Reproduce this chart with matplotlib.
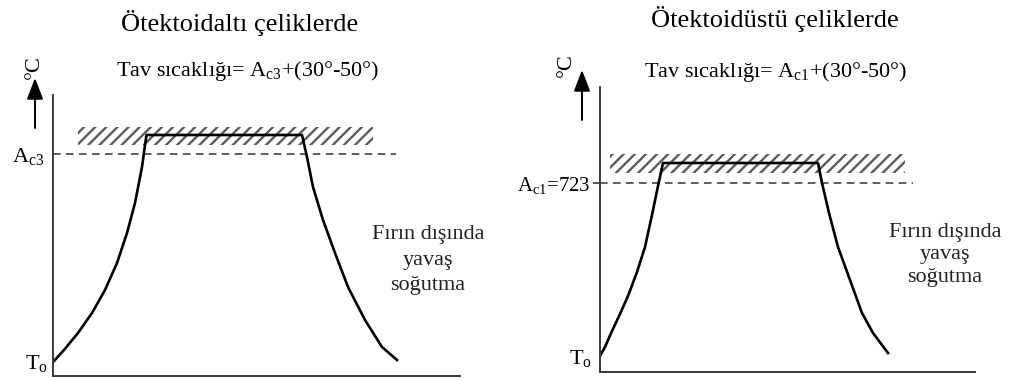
import matplotlib
matplotlib.use("Agg")
import matplotlib.pyplot as plt
from matplotlib.patches import Rectangle

plt.rcParams['font.family'] = ['Liberation Serif', 'DejaVu Serif']
plt.rcParams['mathtext.fontset'] = 'custom'
plt.rcParams['mathtext.rm'] = 'Liberation Serif'
plt.rcParams['mathtext.it'] = 'Liberation Serif:italic'
plt.rcParams['hatch.linewidth'] = 1.7

# schematic data (time, temperature) in arbitrary units
left_t = [1, 11, 25, 39, 52, 64, 74, 82, 89, 92, 93.5,
          249, 254, 260, 270, 282, 295, 312, 329, 344]
left_T = [15, 26, 43, 63, 86, 113, 143, 173, 209, 231, 241,
          241, 219, 189, 156, 123, 89, 56, 29, 16]
left_band = (25, 320, 231, 249)      # t0, t1, T0, T1
left_crit = 222
left_crit_end = 343

right_t = [0, 5, 12, 20, 28, 37, 45, 52, 58, 63,
           218, 222, 229, 238, 250, 262, 273, 288]
right_T = [16, 25, 41, 58, 76, 100, 125, 157, 186, 209,
           209, 189, 159, 125, 92, 59, 39, 19]
right_band = (10, 305, 199, 218)
right_crit = 189
right_crit_end = 313

titles = ["Ötektoidaltı çeliklerde", "Ötektoidüstü çeliklerde"]
subtitles = [r"Tav sıcaklığı= A$_{\mathrm{c3}}$+(30°-50°)",
             r"Tav sıcaklığı= A$_{\mathrm{c1}}$+(30°-50°)"]
crit_labels = [r"A$_{\mathrm{c3}}$", r"A$_{\mathrm{c1}}$=723"]
note = "Fırın dışında\nyavaş\nsoğutma"

fig = plt.figure(figsize=(10.14, 3.80), dpi=100)
W, H = 1014, 380

panels = [
    dict(pos=[53, 4, 407, 281], t=left_t, T=left_T, band=left_band,
         crit=left_crit, crit_end=left_crit_end, tick_len=0, crit_pad=6,
         crit_fs=16, to_pad=3.5, title_xy=(240, 23), sub_xy=(248, 71),
         note_xy=(375, 116), note_ls=1.45, deg_xy=(-19, 28)),
    dict(pos=[600, 8, 375, 285], t=right_t, T=right_T, band=right_band,
         crit=right_crit, crit_end=right_crit_end, tick_len=5, crit_pad=2,
         crit_fs=15, to_pad=0.8, title_xy=(775, 19), sub_xy=(776, 72),
         note_xy=(345, 117), note_ls=1.27, deg_xy=(-34, 22)),
]

for i, p in enumerate(panels):
    x0, y0, w, h = p['pos']
    ax = fig.add_axes([x0 / W, y0 / H, w / W, h / H])
    ax.set_xlim(0, w)
    ax.set_ylim(0, h)
    for s in ['top', 'right']:
        ax.spines[s].set_visible(False)
    for s in ['left', 'bottom']:
        ax.spines[s].set_linewidth(1.4)
        ax.spines[s].set_color('#3a3a3a')
    ax.set_xticks([])

    ax.set_yticks([p['T'][0], p['crit']])
    ax.set_yticklabels([r"T$_{\mathrm{o}}$", crit_labels[i]])
    ax.tick_params(axis='y', length=p['tick_len'], width=1.2, color='#3a3a3a')
    ticks = ax.yaxis.get_major_ticks()
    ticks[0].tick1line.set_visible(False)
    ticks[0].set_pad(p['to_pad'])
    ticks[0].label1.set_fontsize(16)
    ticks[1].set_pad(p['crit_pad'])
    ticks[1].label1.set_fontsize(p['crit_fs'])

    t0, t1, b0, b1 = p['band']
    ax.add_patch(Rectangle((t0, b0), t1 - t0, b1 - b0, facecolor='none',
                           edgecolor='#5c5c5c', linewidth=0, hatch='///'))
    ax.plot([0, p['crit_end']], [p['crit'], p['crit']], color='#333333',
            lw=1.1, dashes=(5, 3.5))
    ax.plot(p['t'], p['T'], color='black', lw=1.9, solid_joinstyle='round')

    ax.annotate('', xy=(-18, h + 17), xytext=(-18, h - 33),
                annotation_clip=False,
                arrowprops=dict(arrowstyle='-|>,head_length=0.65,head_width=0.25',
                                color='black', lw=1.4, mutation_scale=20,
                                shrinkA=0, shrinkB=0))
    dx, dy = p['deg_xy']
    ax.text(dx, h + dy, "°C", rotation=90, fontsize=16, ha='center',
            va='center', clip_on=False)

    nx, ny = p['note_xy']
    ax.text(nx, ny, note, fontsize=16, ha='center', va='center',
            linespacing=p['note_ls'], color='#222222', clip_on=False)

    tx, ty = p['title_xy']
    fig.text(tx / W, 1 - ty / H, titles[i], fontsize=19, ha='center', va='center')
    sx, sy = p['sub_xy']
    fig.text(sx / W, 1 - sy / H, subtitles[i], fontsize=16, ha='center', va='center')

fig.savefig('out.png', dpi=100)
